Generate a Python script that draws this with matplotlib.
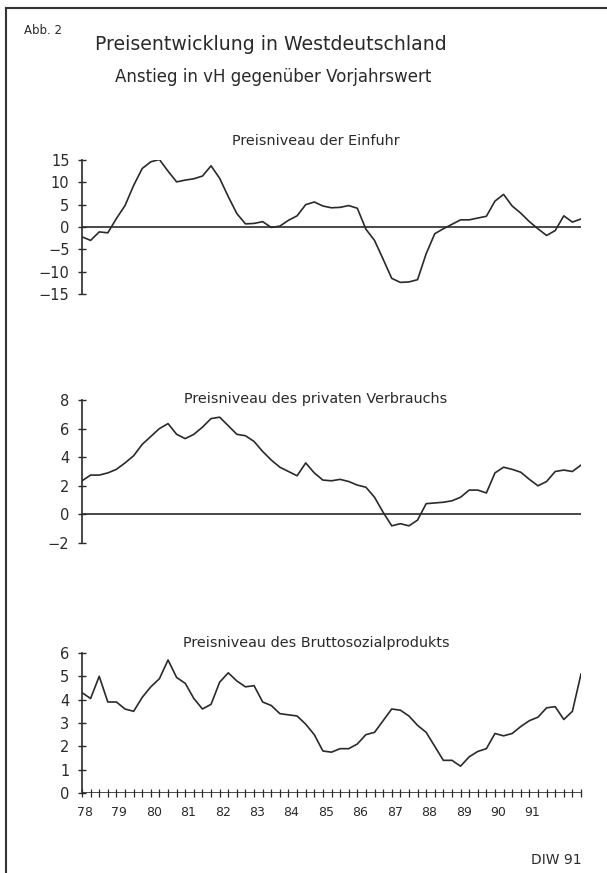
import matplotlib.pyplot as plt
import numpy as np

# quarterly values, 1978 Q1 .. 1992 Q2
einfuhr = [-2.2, -3.0, -1.1, -1.3, 1.9, 4.8, 9.3, 13.1, 14.6, 15.1,
           12.5, 10.1, 10.5, 10.8, 11.4, 13.7, 10.9, 6.8, 3.0, 0.7,
           0.8, 1.2, -0.1, 0.2, 1.5, 2.5, 5.0, 5.6, 4.7, 4.3,
           4.4, 4.8, 4.2, -0.5, -3.0, -7.2, -11.5, -12.4, -12.3, -11.8,
           -6.0, -1.5, -0.4, 0.6, 1.6, 1.6, 2.0, 2.4, 5.8, 7.3,
           4.7, 3.1, 1.2, -0.4, -1.9, -0.8, 2.5, 1.1, 1.8]
verbrauch = [2.35, 2.75, 2.75, 2.9, 3.15, 3.6, 4.1, 4.9, 5.45, 6.0,
             6.35, 5.6, 5.3, 5.6, 6.1, 6.7, 6.8, 6.2, 5.6, 5.5,
             5.1, 4.4, 3.8, 3.3, 3.0, 2.7, 3.6, 2.9, 2.4, 2.35,
             2.45, 2.3, 2.05, 1.9, 1.2, 0.15, -0.8, -0.65, -0.8, -0.4,
             0.75, 0.8, 0.85, 0.95, 1.2, 1.7, 1.7, 1.5, 2.9, 3.3,
             3.15, 2.95, 2.45, 2.0, 2.3, 3.0, 3.1, 3.0, 3.45]
bsp = [4.3, 4.05, 5.0, 3.9, 3.9, 3.6, 3.5, 4.1, 4.55, 4.9,
       5.7, 4.95, 4.7, 4.05, 3.6, 3.8, 4.75, 5.15, 4.8, 4.55,
       4.6, 3.9, 3.75, 3.4, 3.35, 3.3, 2.95, 2.5, 1.8, 1.75,
       1.9, 1.9, 2.1, 2.5, 2.6, 3.1, 3.6, 3.55, 3.3, 2.9,
       2.6, 2.0, 1.4, 1.4, 1.15, 1.55, 1.78, 1.9, 2.55, 2.45,
       2.55, 2.85, 3.1, 3.25, 3.65, 3.7, 3.15, 3.5, 5.1]

year_labels = ["78", "79", "80", "81", "82", "83", "84", "85",
               "86", "87", "88", "89", "90", "91"]
panel_titles = ["Preisniveau der Einfuhr",
                "Preisniveau des privaten Verbrauchs",
                "Preisniveau des Bruttosozialprodukts"]
yticks = [[-15, -10, -5, 0, 5, 10, 15],
          [-2, 0, 2, 4, 6, 8],
          [0, 1, 2, 3, 4, 5, 6]]

W, H = 607, 873
ink = '#2a2a2a'
fig = plt.figure(figsize=(W / 100, H / 100), dpi=100)
fig.patch.set_facecolor('white')

def fx(px):
    return px / W

def fy(py):
    return 1 - py / H

x = np.arange(len(einfuhr))
# axes boxes in pixels: (top, bottom) of y-range
boxes = [(160, 294), (400, 543), (653, 793)]
title_y = [141, 399, 643]
series = [einfuhr, verbrauch, bsp]

for k in range(3):
    top, bot = boxes[k]
    ax = fig.add_axes([fx(82), fy(bot), fx(581) - fx(82), (bot - top) / H])
    ax.plot(x, series[k], color=ink, lw=1.2)
    ax.axhline(0, color=ink, lw=1.2)
    ax.set_xlim(0, len(x) - 1)
    ax.set_ylim(yticks[k][0], yticks[k][-1])
    ax.set_yticks(yticks[k])
    ax.set_yticklabels([str(v).replace('-', '\u2212') for v in yticks[k]])
    for s in ['top', 'right', 'bottom']:
        ax.spines[s].set_visible(False)
    ax.spines['left'].set_color(ink)
    ax.spines['left'].set_linewidth(1.2)
    ax.tick_params(axis='y', direction='inout', length=6, width=1,
                   color=ink, labelcolor=ink, labelsize=10.5, pad=6)
    ax.patch.set_alpha(0)
    if k < 2:
        ax.set_xticks([])
    else:
        ax.set_xticks(x, minor=True)
        ax.set_xticks([4 * i + 0.35 for i in range(len(year_labels))])
        ax.set_xticklabels(year_labels)
        ax.tick_params(axis='x', which='minor', direction='inout', length=6,
                       width=0.9, color=ink)
        ax.tick_params(axis='x', which='major', length=0, pad=9,
                       labelsize=9, labelcolor=ink)
    fig.text(fx(316), fy(title_y[k]), panel_titles[k], ha='center',
             va='center', fontsize=10.4, color=ink)

fig.text(fx(24), fy(30), "Abb. 2", ha='left', va='center', fontsize=8.5,
         color=ink)
fig.text(fx(271), fy(44), "Preisentwicklung in Westdeutschland",
         ha='center', va='center', fontsize=13.6, color=ink)
fig.text(fx(273), fy(77), "Anstieg in vH gegenüber Vorjahrswert",
         ha='center', va='center', fontsize=12, color=ink)
fig.text(fx(582), fy(860), "DIW 91", ha='right', va='center', fontsize=10,
         color=ink)

# frame of the figure sheet
fig.add_artist(plt.Line2D([fx(6), fx(6)], [fy(8), 0], color='#333333',
                          lw=1.5, transform=fig.transFigure))
fig.add_artist(plt.Line2D([fx(6), 1], [fy(8), fy(8)], color='#333333',
                          lw=1.5, transform=fig.transFigure))

fig.savefig('out.png', dpi=100, facecolor='white')
